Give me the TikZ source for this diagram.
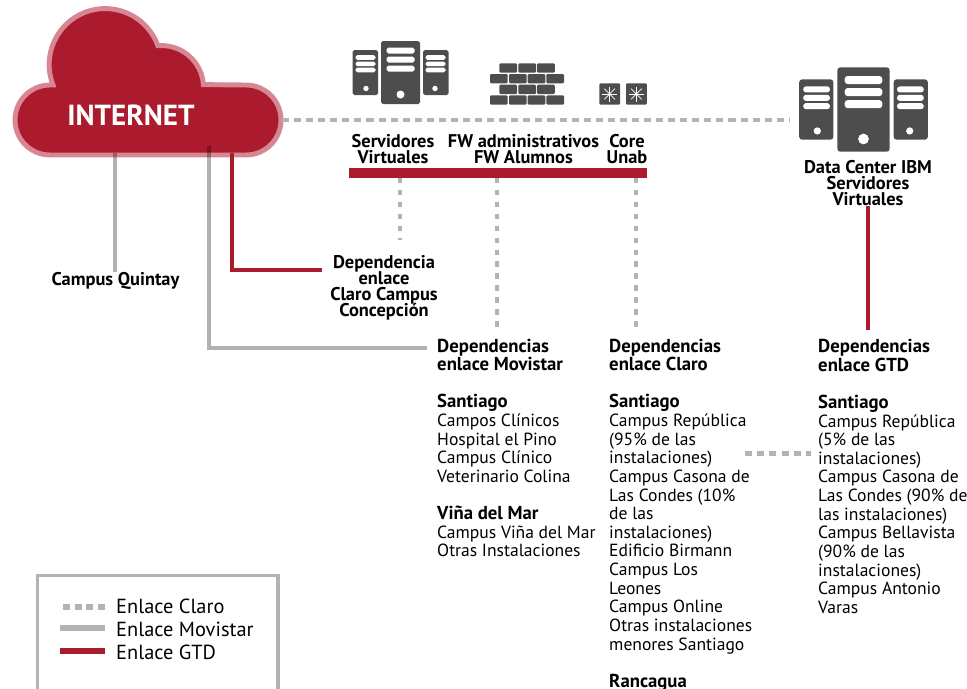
\documentclass[tikz,border=0pt]{standalone}
\usepackage{fontspec}
\setmainfont{PT Sans}
\setlength{\lineskiplimit}{-20pt}
\definecolor{unabred}{HTML}{AB1A2D}
\definecolor{cloudrim}{HTML}{D68793}
\definecolor{icondark}{HTML}{4D4D4D}
\definecolor{linkgray}{HTML}{B3B3B3}
\tikzset{
  claro/.style={draw=linkgray,line width=2.6pt,dash pattern=on 6pt off 4.3pt},
  claroshort/.style={draw=linkgray,line width=3pt,dash pattern=on 4.6pt off 5.6pt},
  clarothick/.style={draw=linkgray,line width=4.6pt,dash pattern=on 6pt off 4.4pt},
  movistar/.style={draw=black,opacity=.3,line width=2.6pt},
  gtd/.style={draw=unabred,line width=2.6pt},
  toplabel/.style={font=\fontsize{15.7}{13.6}\selectfont\bfseries,align=center,inner sep=0pt},
  listtext/.style={font=\fontsize{15}{15.9}\selectfont,align=left,anchor=north west,inner sep=0pt},
  legendtext/.style={font=\fontsize{17.4}{17.4}\selectfont,anchor=west,inner sep=0pt}
}
\newcommand{\listhead}[1]{{\fontsize{16}{15.9}\selectfont\bfseries #1}}
% towers around (#1), scale #2, corner radius #3
\newcommand{\serverset}[3]{
  \begin{scope}[shift={(#1)},scale=#2,rounded corners=#3]
    \fill[icondark] (-19.5,-31.5) rectangle (19.5,31.5);
    \foreach \yy in {-22,-13,-4}
      \fill[white] (-14,\yy-3) rectangle (14,\yy+3);
    \fill[white] (0,22) circle (4);
    \foreach \sx in {-1,1} {
      \fill[icondark] (\sx*22.5,-22.5) rectangle (\sx*48,22.5);
      \foreach \yy in {-15,-8.7,-2.5}
        \fill[white] (\sx*25,\yy-2.3) rectangle (\sx*45,\yy+2.3);
      \fill[white] (\sx*34.5,16) circle (2.7);
    }
  \end{scope}
}
% one switch square around (#1)
\newcommand{\switchbox}[1]{
  \begin{scope}[shift={(#1)}]
    \fill[icondark,rounded corners=1pt] (-10.4,-10.7) rectangle (10.4,10.7);
    \foreach \aa in {0,45,...,315}
      \draw[white,line width=.6pt] (0,0) -- (\aa:7.5);
    \fill[white] (0,0) circle (1.2);
  \end{scope}
}
\begin{document}
\begin{tikzpicture}[x=0.03cm,y=-0.03cm]
\useasboundingbox (0,0) rectangle (967,688);

% cloud
\draw[fill=unabred,draw=cloudrim,line width=4.2pt]
  (53,85) arc[start angle=158.6,end angle=340.3,radius=56]
  arc[start angle=265,end angle=356,radius=42]
  -- (246,85) arc[start angle=-90,end angle=90,radius=35]
  -- (50,155) arc[start angle=90,end angle=270,radius=35] -- cycle;
\node[text=white,font=\fontsize{24.8}{24.8}\selectfont\bfseries,inner sep=0pt] (internet) at (131,115) {INTERNET};

% icons
\serverset{400.5,72.5}{1}{1.5pt}
\serverset{863.5,109.5}{1.34}{2.5pt}
\foreach \xx in {499.3,518.3,537} {
  \fill[icondark,rounded corners=1pt] (\xx,63.3) rectangle +(17.8,9.4);
  \fill[icondark,rounded corners=1pt] (\xx,84.7) rectangle +(17.8,9.4);
}
\foreach \xx in {490,509,527.7,546.3} {
  \fill[icondark,rounded corners=1pt] (\xx,74) rectangle +(17.7,9.4);
  \fill[icondark,rounded corners=1pt] (\xx,95.3) rectangle +(17.7,9.4);
}
\switchbox{609.7,94}
\switchbox{636.4,94}

% labels
\node[toplabel] (srvlabel) at (393,149) {Servidores\\Virtuales};
\node[toplabel] (fwlabel) at (523.5,149) {FW administrativos\\FW Alumnos};
\node[toplabel] (corelabel) at (627,149) {Core\\Unab};
\node[toplabel] (ibmlabel) at (868,183) {Data Center IBM\\Servidores\\Virtuales};
\node[toplabel] (quintay) at (115.5,281) {Campus Quintay};
\node[toplabel] (conce) at (384,288) {Dependencia\\enlace\\Claro Campus\\Concepción};
\node[fill=unabred,inner sep=0pt,minimum width=298*0.03cm,minimum height=9.6*0.03cm] (corebar) at (498,172.8) {};

\node[listtext] (movistarlist) at (437,338.5) {\listhead{Dependencias}\\\listhead{enlace Movistar}\\[15.9pt]
  \listhead{Santiago}\\Campos Clínicos\\Hospital el Pino\\Campus Clínico\\Veterinario Colina\\[15.9pt]
  \listhead{Viña del Mar}\\Campus Viña del Mar\\Otras Instalaciones};
\node[listtext] (clarolist) at (609,338.5) {\listhead{Dependencias}\\\listhead{enlace Claro}\\[15.9pt]
  \listhead{Santiago}\\Campus República\\(95\% de las\\instalaciones)\\Campus Casona de\\Las Condes (10\%\\de las\\instalaciones)\\Edificio Birmann\\Campus Los\\Leones\\Campus Online\\Otras instalaciones\\menores Santiago\\[15.9pt]
  \listhead{Rancagua}};
\node[listtext] (gtdlist) at (818,339) {\listhead{Dependencias}\\\listhead{enlace GTD}\\[15.9pt]
  \listhead{Santiago}\\Campus República\\(5\% de las\\instalaciones)\\Campus Casona de\\Las Condes (90\% de\\las instalaciones)\\Campus Bellavista\\(90\% de las\\instalaciones)\\Campus Antonio\\Varas};

% link ends
\coordinate (cloudright) at (282,120);
\coordinate (ibmleft) at (790,120);
\coordinate (quintaytop) at (115,153);
\coordinate (movistartop) at (209,146);
\coordinate (movistarend) at (427,348);
\coordinate (gtdtop) at (232,153);
\coordinate (conceend) at (322,270);
\coordinate (srvend) at (400,240);
\coordinate (fwend) at (497,327);
\coordinate (coreend) at (636,327);
\coordinate (gtdend) at (868,330);
\coordinate (claroleft) at (745,453.5);
\coordinate (clarogtd) at (811,453.5);

% links
\draw[claro] (cloudright) -- (ibmleft);
\draw[movistar] (quintaytop) -- (quintaytop |- quintay.north);
\draw[movistar] (movistartop) |- (movistarend);
\draw[gtd] (gtdtop) |- (conceend);
\draw[claroshort] (corebar.south -| srvend) -- (srvend);
\draw[claroshort] (corebar.south -| fwend) -- (fwend);
\draw[claroshort] (corebar.south -| coreend) -- (coreend);
\draw[gtd] (ibmlabel.south -| gtdend) -- (gtdend);
\draw[clarothick] (claroleft) -- (clarogtd);

% legend
\draw[linkgray,line width=2.8pt] (37.7,692) -- (37.7,575.7) -- (278,575.7) -- (278,692);
\coordinate (legA) at (63,607);
\coordinate (legB) at (60,628);
\coordinate (legC) at (60,651);
\node[legendtext] (legclaro) at (116,606) {Enlace Claro};
\node[legendtext] (legmovistar) at (116,629) {Enlace Movistar};
\node[legendtext] (leggtd) at (116,652) {Enlace GTD};
\draw[linkgray,line width=4.6pt,dash pattern=on 6pt off 4pt] (legA) -- ++(42,0);
\draw[linkgray,line width=5pt] (legB) -- ++(45,0);
\draw[unabred,line width=5.5pt] (legC) -- ++(45,0);
\end{tikzpicture}
\end{document}
